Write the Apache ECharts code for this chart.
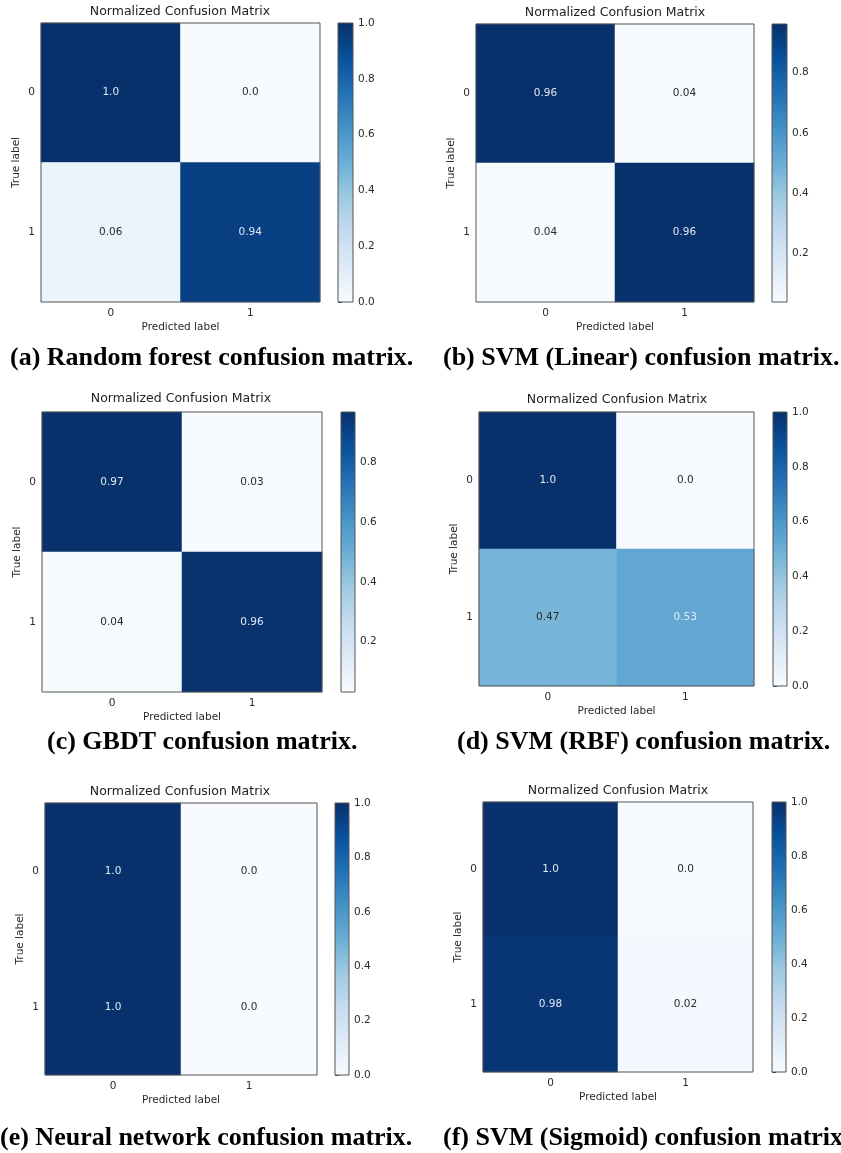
<!DOCTYPE html>
<html>
<head>
<meta charset="utf-8">
<script src="https://cdn.jsdelivr.net/npm/echarts@6/dist/echarts.min.js"></script>
<style>
html, body { margin: 0; padding: 0; background: #fff; }
#main { width: 841px; height: 1153px; }
</style>
</head>
<body>
<div id="main"></div>
<script>
// class labels (true / predicted)
const labels01 = ['0', '1'];
// colorbar tick values
const cbTicks = [0.0, 0.2, 0.4, 0.6, 0.8, 1.0];
const captions = [
    '(a) Random forest confusion matrix.',
    '(b) SVM (Linear) confusion matrix.',
    '(c) GBDT confusion matrix.',
    '(d) SVM (RBF) confusion matrix.',
    '(e) Neural network confusion matrix.',
    '(f) SVM (Sigmoid) confusion matrix'
];
// rows = true label, cols = predicted label
const mRandomForest = [[1.0, 0.0], [0.06, 0.94]];
const mSvmLinear = [[0.96, 0.04], [0.04, 0.96]];
const mGbdt = [[0.97, 0.03], [0.04, 0.96]];
const mSvmRbf = [[1.0, 0.0], [0.47, 0.53]];
const mNeuralNet = [[1.0, 0.0], [1.0, 0.0]];
const mSvmSigmoid = [[1.0, 0.0], [0.98, 0.02]];
const matrices = [mRandomForest, mSvmLinear, mGbdt, mSvmRbf, mNeuralNet, mSvmSigmoid];

// matplotlib "Blues"
const blues = ['#f7fbff', '#deebf7', '#c6dbef', '#9ecae1', '#6baed6', '#4292c6', '#2171b5', '#08519c', '#08306b'];

// layout of each panel: plot box, colorbar, title centre, caption
const boxes = [
    { x: 41, y: 23, w: 279, h: 279, cb: 338, cbw: 15, tx: 180, ty: 13, cx: 10, cy: 358 },
    { x: 476, y: 24, w: 278, h: 278, cb: 772, cbw: 15, tx: 615, ty: 14, cx: 443, cy: 358 },
    { x: 42, y: 412, w: 280, h: 280, cb: 341, cbw: 14, tx: 181, ty: 400, cx: 47, cy: 742 },
    { x: 479, y: 412, w: 275, h: 274, cb: 773, cbw: 14, tx: 617, ty: 401, cx: 457, cy: 742 },
    { x: 45, y: 803, w: 272, h: 272, cb: 335, cbw: 14, tx: 180, ty: 793, cx: 0, cy: 1138 },
    { x: 483, y: 802, w: 270, h: 270, cb: 772, cbw: 14, tx: 618, ty: 792, cx: 443, cy: 1138 }
];

function fmt(v) {
    return Number.isInteger(v) ? v.toFixed(1) : String(v);
}

const grid = [], xAxis = [], yAxis = [], heat = [], bars = [], visualMap = [], title = [], graphic = [];
const axisTxt = '#2a2a2a';

matrices.forEach(function (m, i) {
    const b = boxes[i];
    const flat = [].concat(m[0], m[1]);
    const vmin = Math.min.apply(null, flat);
    const vmax = Math.max.apply(null, flat);
    const thresh = vmax / 2;
    const ticks = cbTicks.filter(t => t >= vmin - 1e-9 && t <= vmax + 1e-9);

    grid.push({ left: b.x, top: b.y, width: b.w, height: b.h, show: true, borderColor: '#555', borderWidth: 1, z: 10 });
    grid.push({ left: b.cb, top: b.y, width: b.cbw, height: b.h });

    xAxis.push({
        type: 'category', data: labels01, gridIndex: 2 * i, position: 'bottom',
        name: 'Predicted label', nameLocation: 'middle', nameGap: 20,
        nameTextStyle: { fontSize: 10.5, color: axisTxt },
        axisLine: { show: false },
        axisTick: { alignWithLabel: true, length: 4, lineStyle: { color: '#444' } },
        axisLabel: { fontSize: 10.5, color: axisTxt, margin: 6 },
        splitLine: { show: false }
    });
    xAxis.push({ type: 'value', gridIndex: 2 * i + 1, min: 0, max: 1, show: false });

    yAxis.push({
        type: 'category', data: labels01, gridIndex: 2 * i, inverse: true,
        name: 'True label', nameLocation: 'middle', nameGap: 19, nameRotate: 90,
        nameTextStyle: { fontSize: 10.5, color: axisTxt },
        axisLine: { show: false },
        axisTick: { alignWithLabel: true, length: 4, lineStyle: { color: '#444' } },
        axisLabel: { fontSize: 10.5, color: axisTxt, margin: 6 },
        splitLine: { show: false }
    });
    yAxis.push({
        type: 'value', gridIndex: 2 * i + 1, min: vmin, max: vmax, position: 'right',
        axisLine: { show: false },
        axisTick: { show: true, length: 4, customValues: ticks, lineStyle: { color: '#444' } },
        axisLabel: { customValues: ticks, fontSize: 10.5, color: axisTxt, margin: 5, formatter: v => v.toFixed(1) },
        splitLine: { show: false }
    });

    const data = [];
    m.forEach(function (row, r) {
        row.forEach(function (v, c) {
            data.push({ value: [c, r, v], label: { color: v > thresh ? '#dfe7f3' : '#2a2a2a' } });
        });
    });
    heat.push({
        type: 'heatmap', xAxisIndex: 2 * i, yAxisIndex: 2 * i, data: data,
        label: { show: true, fontSize: 10.5, formatter: p => fmt(p.value[2]) },
        itemStyle: { borderWidth: 0 },
        emphasis: { disabled: true }
    });
    bars.push({
        type: 'custom', xAxisIndex: 2 * i + 1, yAxisIndex: 2 * i + 1,
        data: [[vmin, vmax]],
        renderItem: function (params, api) {
            const p0 = api.coord([0, api.value(0)]);
            const p1 = api.coord([1, api.value(1)]);
            return {
                type: 'rect',
                shape: { x: p0[0], y: p1[1], width: p1[0] - p0[0], height: p0[1] - p1[1] },
                style: {
                    fill: new echarts.graphic.LinearGradient(0, 1, 0, 0,
                        blues.map((c, k) => ({ offset: k / (blues.length - 1), color: c }))),
                    stroke: '#555', lineWidth: 1
                }
            };
        }
    });
    visualMap.push({ show: false, seriesIndex: i, min: vmin, max: vmax, inRange: { color: blues } });

    title.push({
        text: 'Normalized Confusion Matrix', left: b.tx, top: b.ty - 8, textAlign: 'center', padding: 0,
        textStyle: { fontSize: 12.5, fontWeight: 'normal', color: '#222', fontFamily: 'DejaVu Sans' }
    });
    graphic.push({
        type: 'text', left: b.cx, top: b.cy - 13,
        style: { text: captions[i], font: 'bold 26px "Liberation Serif"', fill: '#000' }
    });
});

const chart = echarts.init(document.getElementById('main'));
chart.setOption({
    animation: false,
    backgroundColor: '#fff',
    textStyle: { fontFamily: 'DejaVu Sans' },
    title: title,
    grid: grid,
    xAxis: xAxis,
    yAxis: yAxis,
    visualMap: visualMap,
    series: heat.concat(bars),
    graphic: graphic
});
</script>
</body>
</html>
